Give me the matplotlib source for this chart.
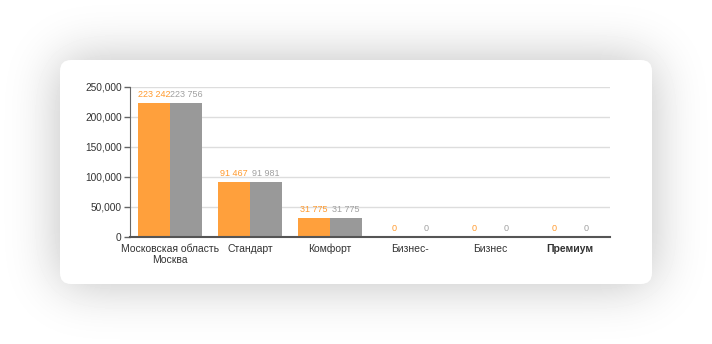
import numpy as np
import matplotlib.pyplot as plt
from matplotlib.patches import FancyBboxPatch

plt.rcParams['font.family'] = ['Liberation Sans', 'DejaVu Sans']

categories = ['Московская область\nМосква', 'Стандарт', 'Комфорт', 'Бизнес-', 'Бизнес', 'Премиум']
series_a = [223242, 91467, 31775, 0, 0, 0]
series_b = [223756, 91981, 31775, 0, 0, 0]
yticks = [0, 50000, 100000, 150000, 200000, 250000]

W, H = 712, 344
fig = plt.figure(figsize=(W/100, H/100), dpi=100)

# card shadow
mask = np.zeros((H, W))
mask[60:284, 60:652] = 1.0
sig = 26
k = np.arange(-3*sig, 3*sig+1)
g = np.exp(-k**2/(2*sig**2))
g /= g.sum()
blur = np.apply_along_axis(lambda r: np.convolve(r, g, mode='same'), 1, mask)
blur = np.apply_along_axis(lambda c: np.convolve(c, g, mode='same'), 0, blur)
img = 1 - 0.26*blur

bg = fig.add_axes([0, 0, 1, 1], zorder=0)
bg.imshow(img, cmap='gray', vmin=0, vmax=1, extent=(0, W, H, 0), aspect='auto')
bg.add_patch(FancyBboxPatch((60, 60), 592, 224, boxstyle='round,pad=0,rounding_size=11',
                            facecolor='white', edgecolor='none'))
bg.set_xlim(0, W)
bg.set_ylim(H, 0)
bg.axis('off')

ax = fig.add_axes([130/W, (H-237)/H, 480/W, 150/H], zorder=1)
ax.set_facecolor('none')

x = np.arange(len(categories))
w = 0.4
orange = '#ffa03c'
grey = '#999999'
ax.bar(x - w/2, series_a, w, color=orange, zorder=2)
ax.bar(x + w/2, series_b, w, color=grey, zorder=2)

def fmt(v):
    return f'{v:,}'.replace(',', ' ')

for xi, a, b in zip(x, series_a, series_b):
    ax.annotate(fmt(a), (xi - w/2, a), xytext=(0, 3), textcoords='offset points',
                ha='center', va='bottom', fontsize=6.5, color='#ff9a2e')
    ax.annotate(fmt(b), (xi + w/2, b), xytext=(0, 3), textcoords='offset points',
                ha='center', va='bottom', fontsize=6.5, color='#a0a0a0')

ax.set_xlim(-0.5, 5.5)
ax.set_ylim(0, 250000)
ax.set_yticks(yticks)
ax.set_yticklabels([f'{t:,}' for t in yticks])
ax.set_xticks(x)
ax.set_xticklabels(categories, linespacing=1.1)
ax.get_xticklabels()[-1].set_fontweight('bold')
ax.tick_params(axis='y', length=4, width=1, color='#666666', labelsize=7.3, labelcolor='#333333', pad=2)
ax.tick_params(axis='x', length=0, labelsize=7.5, labelcolor='#333333', pad=5)
ax.yaxis.grid(True, color='#dddddd', lw=1, zorder=0)
ax.set_axisbelow(True)
for s in ['top', 'right']:
    ax.spines[s].set_visible(False)
ax.spines['left'].set_color('#666666')
ax.spines['bottom'].set_color('#555555')
ax.spines['bottom'].set_linewidth(1.5)

fig.savefig('out.png', dpi=100)
